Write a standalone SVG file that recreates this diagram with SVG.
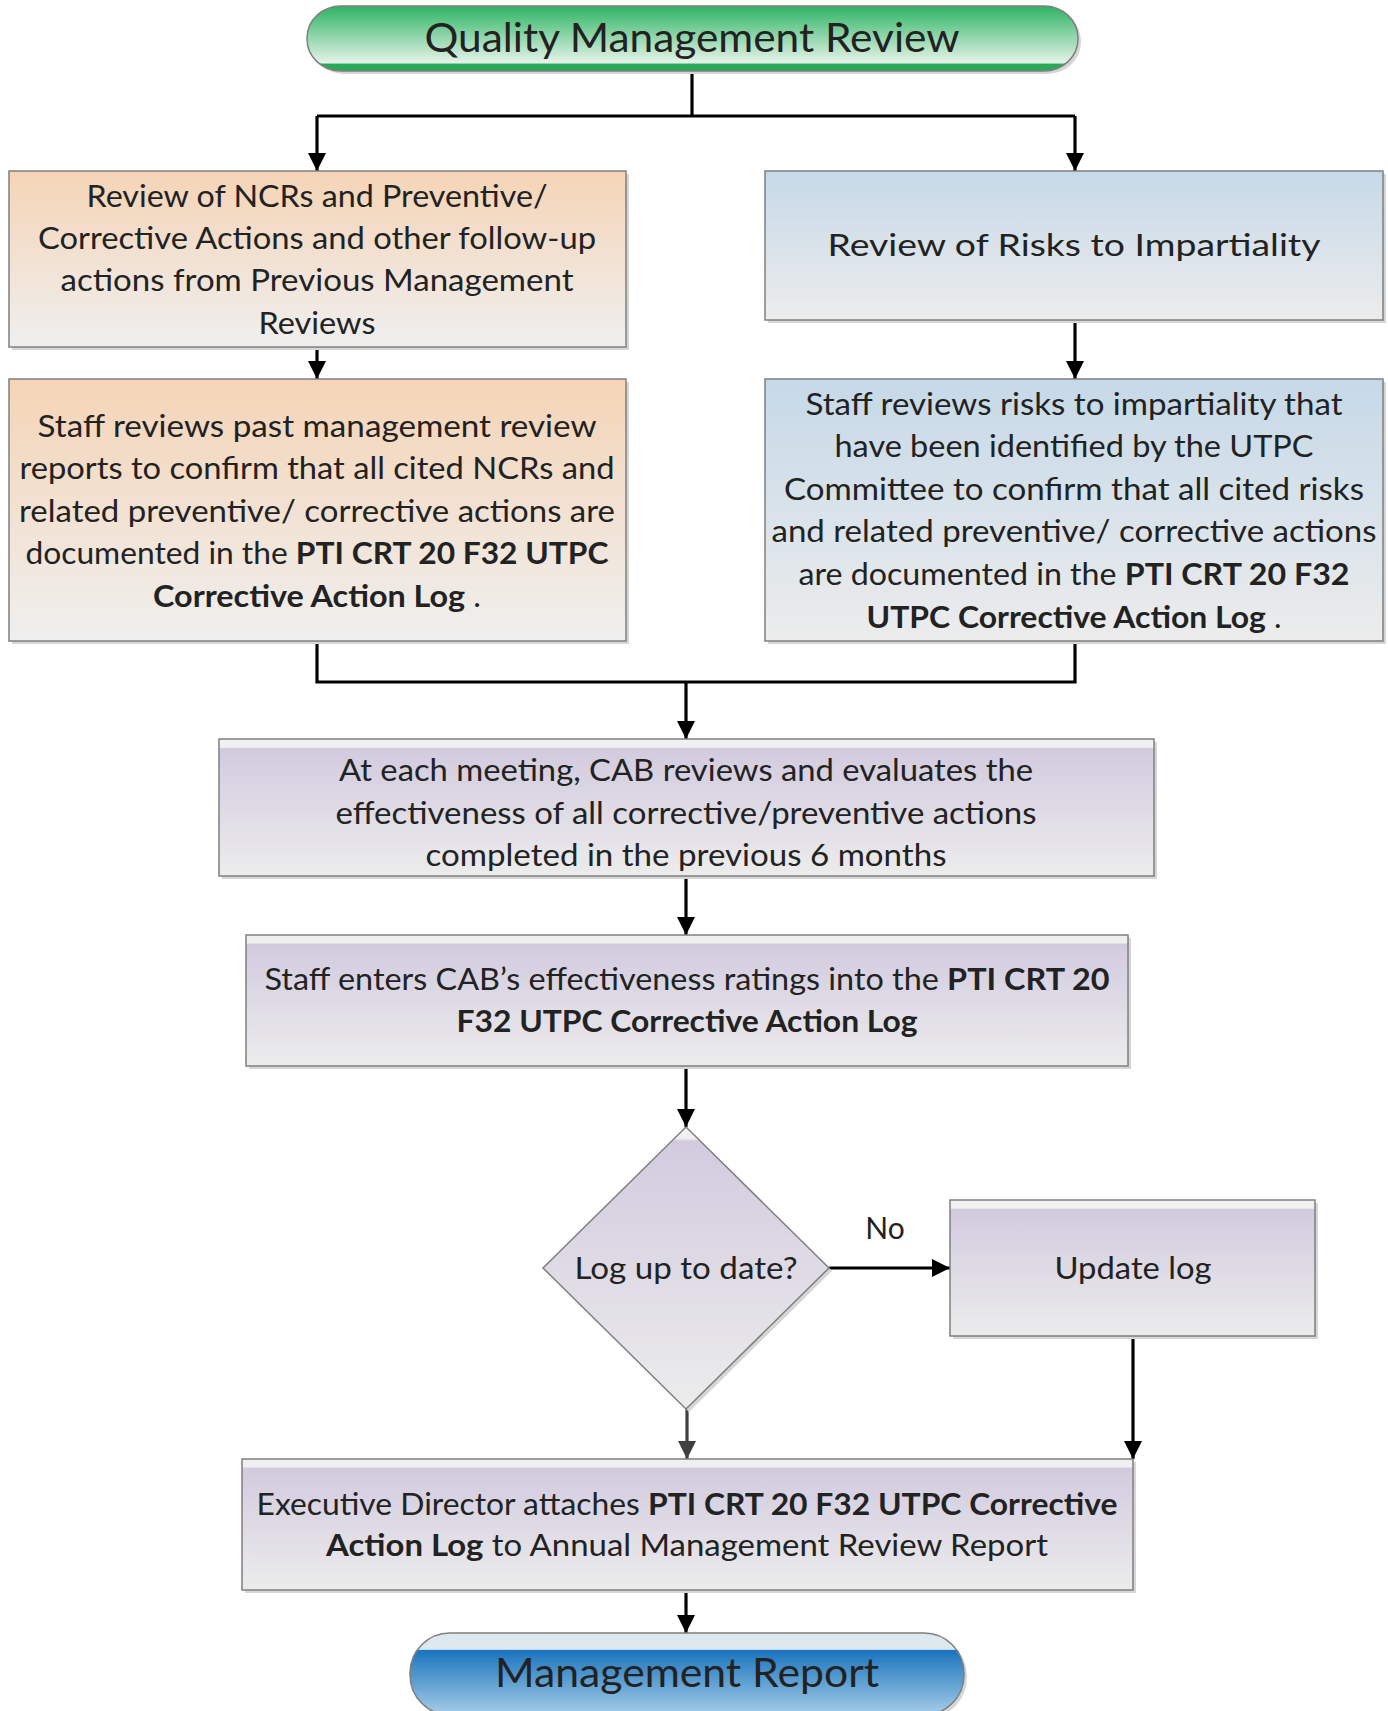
<svg xmlns="http://www.w3.org/2000/svg" width="1388" height="1711" viewBox="0 0 1388 1711">
<defs>
<linearGradient id="gGreen" x1="0" y1="0" x2="0" y2="1">
<stop offset="0" stop-color="#2fb363"/>
<stop offset="0.15" stop-color="#4dbf7a"/>
<stop offset="0.88" stop-color="#e6f3ea"/>
<stop offset="0.89" stop-color="#29a95a"/>
<stop offset="1" stop-color="#29a95a"/>
</linearGradient>
<linearGradient id="gOrange" x1="0" y1="0" x2="0" y2="1">
<stop offset="0" stop-color="#f5d4b6"/>
<stop offset="1" stop-color="#efefef"/>
</linearGradient>
<linearGradient id="gBlue" x1="0" y1="0" x2="0" y2="1">
<stop offset="0" stop-color="#c6d9e8"/>
<stop offset="1" stop-color="#ececec"/>
</linearGradient>
<linearGradient id="gPurple" x1="0" y1="0" x2="0" y2="1">
<stop offset="0" stop-color="#f0f0f0"/>
<stop offset="0.06" stop-color="#f0f0f0"/>
<stop offset="0.07" stop-color="#d2cbdf"/>
<stop offset="1" stop-color="#ececec"/>
</linearGradient>
<linearGradient id="gDiamond" x1="0" y1="0" x2="0" y2="1">
<stop offset="0" stop-color="#f0f0f0"/>
<stop offset="0.04" stop-color="#f0f0f0"/>
<stop offset="0.05" stop-color="#d2cbdf"/>
<stop offset="1" stop-color="#ececec"/>
</linearGradient>
<linearGradient id="gDeepBlue" x1="0" y1="0" x2="0" y2="1">
<stop offset="0" stop-color="#dde8ef"/>
<stop offset="0.2" stop-color="#dde8ef"/>
<stop offset="0.21" stop-color="#1a74bd"/>
<stop offset="1" stop-color="#a6cde8"/>
</linearGradient>
<marker id="arr" markerUnits="userSpaceOnUse" markerWidth="18" markerHeight="20" viewBox="0 0 18 20" refX="18" refY="10" orient="auto">
<path d="M0,1 L18,10 L0,19 Z" fill="#000"/>
</marker>
<marker id="arrGray" markerUnits="userSpaceOnUse" markerWidth="18" markerHeight="20" viewBox="0 0 18 20" refX="18" refY="10" orient="auto">
<path d="M0,1 L18,10 L0,19 Z" fill="#404040"/>
</marker>
</defs>
<style>
.box{stroke:#7f7f7f;stroke-width:1.5}
.shadow{fill:#d6d6d6}
.t{font-family:Lato,"Open Sans","Liberation Sans",sans-serif;font-size:30px;fill:#222;text-anchor:middle}
.big{font-size:40px}
.b{font-weight:bold}
.c{fill:none;stroke:#000;stroke-width:3.2}
</style>

<g id="connectors">
<path class="c" d="M692,71 V116"/>
<path class="c" d="M317,116 H1075"/>
<path class="c" d="M317,116 V171" marker-end="url(#arr)"/>
<path class="c" d="M1075,116 V171" marker-end="url(#arr)"/>
<path class="c" d="M317,347 V379" marker-end="url(#arr)"/>
<path class="c" d="M1075,320 V379" marker-end="url(#arr)"/>
<path class="c" d="M317,641 V682 H1075 V641"/>
<path class="c" d="M686,682 V739" marker-end="url(#arr)"/>
<path class="c" d="M686,876 V935" marker-end="url(#arr)"/>
<path class="c" d="M686,1066 V1127" marker-end="url(#arr)"/>
<path class="c" d="M829,1268 H950" marker-end="url(#arr)"/>
<path class="c" d="M1133,1336 V1459" marker-end="url(#arr)"/>
<path class="c" d="M687,1409 V1459" style="stroke:#404040" marker-end="url(#arrGray)"/>
<path class="c" d="M686,1590 V1633" marker-end="url(#arr)"/>
</g>

<g id="start">
<rect class="shadow" x="310" y="9" width="771" height="65" rx="34" ry="32"/>
<rect class="box" x="307" y="6" width="771" height="65" rx="34" ry="32" fill="url(#gGreen)"/>
<text class="t big" x="692" y="52" textLength="535" lengthAdjust="spacingAndGlyphs">Quality Management Review</text>
</g>

<g id="review-ncrs">
<rect class="shadow" x="12" y="174" width="617" height="176"/>
<rect class="box" x="9" y="171" width="617" height="176" fill="url(#gOrange)"/>
<text class="t" x="317" y="207" textLength="461" lengthAdjust="spacingAndGlyphs">Review of NCRs and Preventive/</text>
<text class="t" x="317" y="249" textLength="558" lengthAdjust="spacingAndGlyphs">Corrective Actions and other follow-up</text>
<text class="t" x="317" y="291" textLength="513" lengthAdjust="spacingAndGlyphs">actions from Previous Management</text>
<text class="t" x="317" y="334" textLength="117" lengthAdjust="spacingAndGlyphs">Reviews</text>
</g>

<g id="review-risks">
<rect class="shadow" x="768" y="174" width="618" height="149"/>
<rect class="box" x="765" y="171" width="618" height="149" fill="url(#gBlue)"/>
<text class="t" x="1074" y="256" textLength="493" lengthAdjust="spacingAndGlyphs">Review of Risks to Impartiality</text>
</g>

<g id="staff-reviews-past">
<rect class="shadow" x="12" y="382" width="617" height="262"/>
<rect class="box" x="9" y="379" width="617" height="262" fill="url(#gOrange)"/>
<text class="t" x="317" y="437" textLength="559" lengthAdjust="spacingAndGlyphs">Staff reviews past management review</text>
<text class="t" x="317" y="479" textLength="595" lengthAdjust="spacingAndGlyphs">reports to confirm that all cited NCRs and</text>
<text class="t" x="317" y="522" textLength="596" lengthAdjust="spacingAndGlyphs">related preventive/ corrective actions are</text>
<text class="t" x="317" y="564" textLength="583" lengthAdjust="spacingAndGlyphs">documented in the <tspan class="b">PTI CRT 20 F32 UTPC</tspan></text>
<text class="t" x="317" y="607" textLength="328" lengthAdjust="spacingAndGlyphs"><tspan class="b">Corrective Action Log</tspan> .</text>
</g>

<g id="staff-reviews-risks">
<rect class="shadow" x="768" y="382" width="618" height="262"/>
<rect class="box" x="765" y="379" width="618" height="262" fill="url(#gBlue)"/>
<text class="t" x="1074" y="415" textLength="537" lengthAdjust="spacingAndGlyphs">Staff reviews risks to impartiality that</text>
<text class="t" x="1074" y="457" textLength="479" lengthAdjust="spacingAndGlyphs">have been identified by the UTPC</text>
<text class="t" x="1074" y="500" textLength="580" lengthAdjust="spacingAndGlyphs">Committee to confirm that all cited risks</text>
<text class="t" x="1074" y="542" textLength="605" lengthAdjust="spacingAndGlyphs">and related preventive/ corrective actions</text>
<text class="t" x="1074" y="585" textLength="551" lengthAdjust="spacingAndGlyphs">are documented in the <tspan class="b">PTI CRT 20 F32</tspan></text>
<text class="t" x="1074" y="628" textLength="415" lengthAdjust="spacingAndGlyphs"><tspan class="b">UTPC Corrective Action Log</tspan> .</text>
</g>

<g id="cab-reviews">
<rect class="shadow" x="222" y="742" width="935" height="137"/>
<rect class="box" x="219" y="739" width="935" height="137" fill="url(#gPurple)"/>
<text class="t" x="686" y="781" textLength="694" lengthAdjust="spacingAndGlyphs">At each meeting, CAB reviews and evaluates the</text>
<text class="t" x="686" y="824" textLength="701" lengthAdjust="spacingAndGlyphs">effectiveness of all corrective/preventive actions</text>
<text class="t" x="686" y="866" textLength="521" lengthAdjust="spacingAndGlyphs">completed in the previous 6 months</text>
</g>

<g id="staff-enters">
<rect class="shadow" x="249" y="938" width="882" height="131"/>
<rect class="box" x="246" y="935" width="882" height="131" fill="url(#gPurple)"/>
<text class="t" x="687" y="990" textLength="845" lengthAdjust="spacingAndGlyphs">Staff enters CAB’s effectiveness ratings into the <tspan class="b">PTI CRT 20</tspan></text>
<text class="t" x="687" y="1032" textLength="461" lengthAdjust="spacingAndGlyphs"><tspan class="b">F32 UTPC Corrective Action Log</tspan></text>
</g>

<g id="decision">
<path d="M689,1130 L832,1271 L689,1412 L546,1271 Z" fill="#d6d6d6"/>
<path class="box" d="M686,1127 L829,1268 L686,1409 L543,1268 Z" fill="url(#gDiamond)"/>
<text class="t" x="686" y="1279" textLength="223" lengthAdjust="spacingAndGlyphs">Log up to date?</text>
</g>

<g id="no-label">
<text class="t" x="885" y="1239">No</text>
</g>

<g id="update-log">
<rect class="shadow" x="953" y="1203" width="365" height="136"/>
<rect class="box" x="950" y="1200" width="365" height="136" fill="url(#gPurple)"/>
<text class="t" x="1133" y="1279" textLength="157" lengthAdjust="spacingAndGlyphs">Update log</text>
</g>

<g id="exec-director">
<rect class="shadow" x="245" y="1462" width="891" height="131"/>
<rect class="box" x="242" y="1459" width="891" height="131" fill="url(#gPurple)"/>
<text class="t" x="687" y="1515" textLength="861" lengthAdjust="spacingAndGlyphs">Executive Director attaches <tspan class="b">PTI CRT 20 F32 UTPC Corrective</tspan></text>
<text class="t" x="687" y="1556" textLength="722" lengthAdjust="spacingAndGlyphs"><tspan class="b">Action Log</tspan> to Annual Management Review Report</text>
</g>

<g id="end">
<rect class="shadow" x="413" y="1636" width="554" height="82" rx="40" ry="40"/>
<rect class="box" x="410" y="1633" width="554" height="82" rx="40" ry="40" fill="url(#gDeepBlue)"/>
<text class="t big" x="687" y="1687" textLength="384" lengthAdjust="spacingAndGlyphs">Management Report</text>
</g>
</svg>
